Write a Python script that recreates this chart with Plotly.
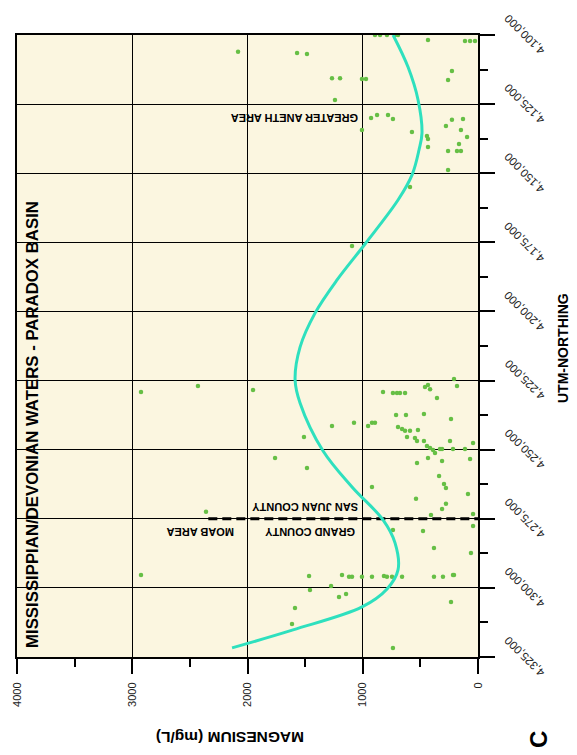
import plotly.graph_objects as go

# ---- data ----
curve_utm = [4100000, 4111600, 4123500, 4135500, 4141600, 4150600, 4159700, 4175600,
             4188600, 4200600, 4212900, 4224800, 4233100, 4250500, 4263500, 4275400,
             4283700, 4293500, 4300400, 4306900, 4315200, 4321700]
curve_mg = [737, 607, 520, 486, 512, 572, 694, 980,
            1223, 1414, 1544, 1587, 1544, 1344, 1093, 824,
            720, 694, 789, 1006, 1605, 2134]

pt_mg = [894, 850, 790, 720, 694, 434, 113, 69, 26, 1570, 1484, 2082,
         1267, 1197, 1007, 972, 226, 260, 1241,
         1007, 928, 876, 781, 738, 573, 443, 434, 434,
         278, 226, 130, 148, 95, 165, 260, 182, 148, 260,
         590, 1093,
         208, 182, 460, 434, 416, 824, 738, 703, 677, 633,
         356, 711, 625, 469, 234, 1267, 1076, 954, 920, 894,
         694, 659, 633, 590, 521, 616, 547, 529, 469, 243, 43,
         443, 416, 390, 373, 330, 312, 217, 113,
         1510, 529, 434, 312, 69, 1484, 338, 295, 278, 920,
         87, 538, 278, 312, 408, 43, 43, 738, 477, 382, 61,
         1466, 1180, 1119, 1093, 1007, 920, 816, 790, 746, 659,
         382, 304, 217, 208, 1458, 1275, 1206, 1145, 234,
         1588, 1614, 738,
         2924, 2430, 1952, 1761, 2360, 2924]
pt_utm = [4100000, 4100000, 4100000, 4100000, 4100000, 4101800, 4102200, 4102200, 4102200, 4106500, 4106900, 4106100,
          4115600, 4115600, 4115900, 4115900, 4113000, 4116300, 4123500,
          4134400, 4130000, 4128900, 4128900, 4130400, 4135100, 4136500, 4137600, 4140500,
          4132900, 4130700, 4130400, 4134400, 4136900, 4139400, 4142000, 4142000, 4142000, 4148800,
          4155000, 4176300,
          4224400, 4227000, 4227300, 4226600, 4228100, 4229100, 4229500, 4229500, 4229500, 4229500,
          4231300, 4237500, 4237500, 4237100, 4238900, 4241400, 4240300, 4241400, 4240300, 4240300,
          4241800, 4242500, 4243200, 4243200, 4242900, 4245400, 4245800, 4246900, 4246900, 4246900, 4247600,
          4248700, 4249400, 4250100, 4251200, 4249800, 4249800, 4249800, 4249800,
          4245400, 4254800, 4253000, 4254100, 4253400, 4256600, 4259500, 4262400, 4263900, 4263500,
          4266000, 4267800, 4269600, 4271500, 4273600, 4273300, 4277600, 4279100, 4279400, 4285600, 4287400,
          4295700, 4295300, 4296000, 4296000, 4296000, 4296000, 4295700, 4296000, 4296000, 4296000,
          4296000, 4296000, 4295300, 4295300, 4300800, 4299300, 4303300, 4302200, 4305100,
          4307300, 4313100, 4321700,
          4229100, 4227000, 4228400, 4253000, 4272500, 4295300]

county_line_mg = [2340, 0]
county_line_utm = [4275000, 4275000]

mg_ticks = [0, 1000, 2000, 3000, 4000]
mg_labels = ["0", "1000", "2000", "3000", "4000"]
utm_ticks = [4100000, 4125000, 4150000, 4175000, 4200000, 4225000, 4250000, 4275000, 4300000, 4325000]
utm_labels = ["4,100,000", "4,125,000", "4,150,000", "4,175,000", "4,200,000",
              "4,225,000", "4,250,000", "4,275,000", "4,300,000", "4,325,000"]

FONT = "Liberation Sans, Arial, sans-serif"
BG = "#FBF6E0"

fig = go.Figure()

fig.add_trace(go.Scatter(x=county_line_mg, y=county_line_utm, mode="lines",
                         line=dict(color="black", width=3, dash="9px,5px"),
                         hoverinfo="skip", showlegend=False))
fig.add_trace(go.Scatter(x=pt_mg, y=pt_utm, mode="markers",
                         marker=dict(color="#66BF45", size=4.5),
                         showlegend=False))
fig.add_trace(go.Scatter(x=curve_mg, y=curve_utm, mode="lines",
                         line=dict(color="#2EE0BE", width=3, shape="spline", smoothing=1.0),
                         showlegend=False))

# page body has an 8px default margin: the figure is sized so that it ends at the window edge
fig.update_layout(
    width=569, height=747,
    margin=dict(l=9, r=99, t=27, b=98),
    paper_bgcolor="white", plot_bgcolor=BG,
    font=dict(family=FONT, color="black"),
    showlegend=False,
    xaxis=dict(range=[4000, 0], tickvals=mg_ticks, ticktext=mg_labels,
               tickangle=-90, ticks="outside", ticklen=15, tickwidth=2, tickcolor="black",
               tickfont=dict(size=11, color="#222"), automargin=False, ticklabelstandoff=4,
               ticklabeloverflow="allow",
               minor=dict(dtick=500, ticks="outside", ticklen=8, tickwidth=1.5, tickcolor="black",
                          showgrid=False),
               showgrid=True, gridcolor="black", gridwidth=1,
               showline=True, linecolor="black", linewidth=2, mirror=True,
               zeroline=False, fixedrange=True),
    yaxis=dict(range=[4325000, 4100000], side="right", tickvals=utm_ticks, showticklabels=False,
               ticks="outside", ticklen=15, tickwidth=2, tickcolor="black", automargin=False,
               minor=dict(dtick=12500, tick0=4100000, ticks="outside", ticklen=8, tickwidth=1.5,
                          tickcolor="black", showgrid=False),
               showgrid=True, gridcolor="black", gridwidth=1,
               showline=True, linecolor="black", linewidth=2, mirror=True,
               zeroline=False, fixedrange=True),
)

# UTM tick labels, placed on the y axis scale and rotated like the reference
for v, lab in zip(utm_ticks, utm_labels):
    fig.add_annotation(text=lab, xref="paper", x=1, yref="y", y=v, xshift=47,
                       xanchor="center", yanchor="middle", showarrow=False, textangle=-135,
                       font=dict(size=11.5, family=FONT, color="#222"))

ann = [
    dict(text="MISSISSIPPIAN/DEVONIAN WATERS - PARADOX BASIN", x=33, y=425, size=16.8, angle=-90),
    dict(text="MAGNESIUM (mg/L)", x=230, y=738, size=15.5, angle=180),
    dict(text="UTM-NORTHING", x=563, y=348, size=14, angle=-90),
    dict(text="GREATER ANETH AREA", x=295, y=118, size=11, angle=180),
    dict(text="MOAB AREA", x=201, y=532, size=11, angle=180),
    dict(text="SAN JUAN COUNTY", x=305, y=507, size=11, angle=180),
    dict(text="GRAND COUNTY", x=310, y=532, size=11, angle=180),
]
for a in ann:
    fig.add_annotation(text="<b>%s</b>" % a["text"], xref="paper", yref="paper",
                       x=(a["x"] - 17) / 461, y=(657 - a["y"]) / 622,
                       xanchor="center", yanchor="middle", showarrow=False,
                       textangle=a["angle"], font=dict(size=a["size"], family=FONT, color="black"))
fig.add_annotation(text="<b>C</b>", xref="paper", yref="paper", x=(538 - 17) / 461, y=(657 - 740) / 622,
                   xanchor="center", yanchor="middle", showarrow=False, textangle=-90,
                   font=dict(size=24, family=FONT, color="black"))

fig.write_html("out.html")
